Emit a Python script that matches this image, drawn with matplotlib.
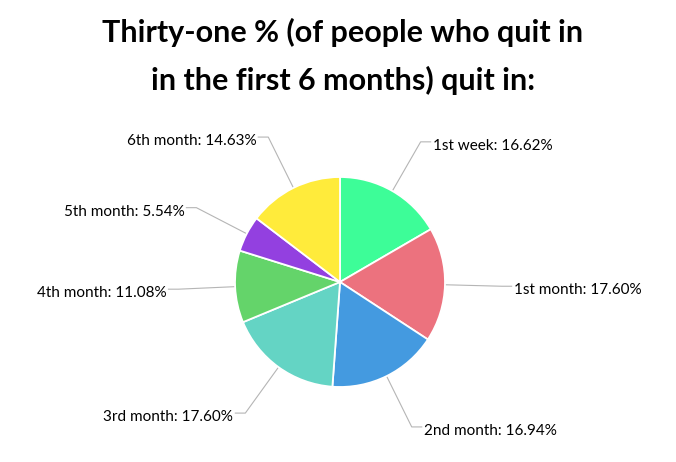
import numpy as np
import matplotlib.pyplot as plt

# data
labels = ["1st week", "1st month", "2nd month", "3rd month", "4th month", "5th month", "6th month"]
values = [16.62, 17.60, 16.94, 17.60, 11.08, 5.54, 14.63]
colors = ["#3dfd98", "#ec727e", "#449ae0", "#64d4c4", "#64d46a", "#9340e0", "#ffeb3b"]
title_lines = ["Thirty-one % (of people who quit in", "in the first 6 months) quit in:"]

plt.rcParams['font.family'] = ['Lato', 'DejaVu Sans']

W, H = 676, 462
fig = plt.figure(figsize=(W / 100, H / 100), dpi=100)
ax = fig.add_axes([0, 0, 1, 1])

cx, cy, r = 340, H - 282, 105
wedges, _ = ax.pie(values, colors=colors, startangle=90, counterclock=False,
                   center=(cx, cy), radius=r, frame=True,
                   wedgeprops=dict(edgecolor='white', linewidth=1.3))
ax.set_xlim(0, W)
ax.set_ylim(0, H)
ax.set_aspect('equal')
ax.axis('off')

# labels with elbow connectors
for w, lab, v in zip(wedges, labels, values):
    ang = np.deg2rad((w.theta1 + w.theta2) / 2)
    dx, dy = np.cos(ang), np.sin(ang)
    x0, y0 = cx + r * dx, cy + r * dy
    x1, y1 = cx + 1.54 * r * dx, cy + 1.54 * r * dy
    side = 1 if dx >= 0 else -1
    x2 = x1 + side * 10
    ax.plot([x0, x1, x2], [y0, y1, y1], color='#b5b5b5', lw=0.8, zorder=0)
    ax.text(x2 + side * 2, y1 - 4, f"{lab}: {v:.2f}%", fontsize=11,
            ha='left' if side > 0 else 'right', va='center', color='black')

for i, line in enumerate(title_lines):
    ax.text(343, H - 42 - 48 * i, line, ha='center', va='baseline', fontsize=22,
            fontweight='bold')

fig.savefig("out.png", dpi=100)
